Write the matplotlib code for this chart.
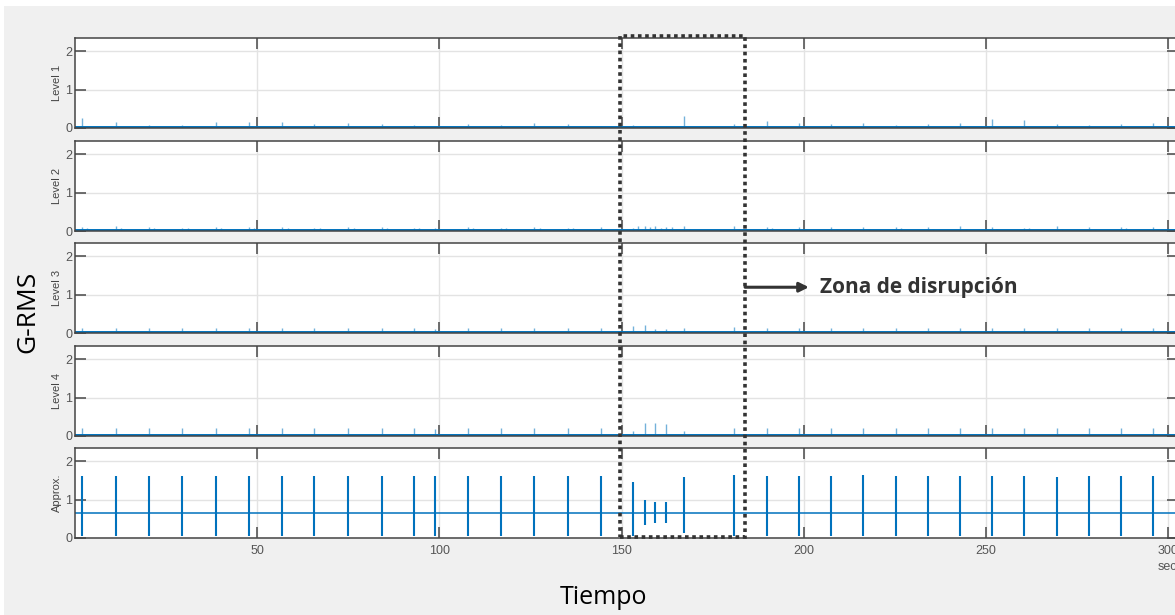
import matplotlib
matplotlib.use('Agg')
import matplotlib.pyplot as plt
from matplotlib.patches import Rectangle
from matplotlib.transforms import blended_transform_factory

# beat times (s) read off the Approx. panel
beats = [1.9, 11.2, 20.3, 29.4, 38.6, 47.7, 56.9, 65.7, 75.0, 84.2, 93.0, 98.8,
         107.8, 116.9, 126.0, 135.2, 144.3, 153.1, 156.4, 159.2, 162.2, 167.1,
         180.8, 189.8, 198.7, 207.5, 216.3, 225.2, 234.0, 242.9, 251.6, 260.4,
         269.5, 278.3, 287.0, 295.8]

approx_base = 0.65
approx_hi = [1.62, 1.62, 1.62, 1.62, 1.62, 1.62, 1.61, 1.60, 1.61, 1.62, 1.62, 1.62,
             1.61, 1.60, 1.62, 1.61, 1.62, 1.45, 1.00, 0.93, 0.93, 1.58,
             1.63, 1.62, 1.60, 1.62, 1.63, 1.61, 1.62, 1.62, 1.60, 1.62,
             1.59, 1.62, 1.62, 1.62]
approx_lo = [0.05, 0.05, 0.05, 0.05, 0.05, 0.05, 0.05, 0.05, 0.05, 0.05, 0.05, 0.05,
             0.05, 0.05, 0.05, 0.05, 0.05, 0.05, 0.34, 0.39, 0.39, 0.13,
             0.05, 0.05, 0.05, 0.05, 0.05, 0.05, 0.05, 0.05, 0.05, 0.05,
             0.05, 0.05, 0.05, 0.05]

level1 = [0.25, 0.16, 0.08, 0.08, 0.15, 0.15, 0.15, 0.10, 0.14, 0.10, 0.08, 0.06,
          0.10, 0.08, 0.12, 0.10, 0.06, 0.08, 0.05, 0.05, 0.06, 0.30,
          0.10, 0.18, 0.13, 0.10, 0.12, 0.08, 0.10, 0.12, 0.23, 0.22,
          0.10, 0.07, 0.10, 0.12]
level2 = [0.10, 0.12, 0.10, 0.09, 0.10, 0.10, 0.11, 0.09, 0.10, 0.10, 0.09, 0.08,
          0.10, 0.09, 0.10, 0.09, 0.10, 0.09, 0.14, 0.12, 0.11, 0.12,
          0.12, 0.11, 0.10, 0.10, 0.10, 0.11, 0.10, 0.12, 0.10, 0.09,
          0.12, 0.10, 0.10, 0.10]
level2_echo = [0.08, 0.09, 0.07, 0.07, 0.08, 0.08, 0.07, 0.07, 0.08, 0.07, 0.07, 0.06,
               0.07, 0.07, 0.08, 0.07, 0.06, 0.12, 0.10, 0.09, 0.10, 0.05,
               0.06, 0.07, 0.06, 0.06, 0.06, 0.08, 0.06, 0.06, 0.06, 0.08,
               0.06, 0.06, 0.07, 0.06]
level3 = [0.12, 0.12, 0.12, 0.12, 0.12, 0.12, 0.12, 0.12, 0.12, 0.13, 0.12, 0.10,
          0.12, 0.12, 0.12, 0.12, 0.12, 0.18, 0.20, 0.10, 0.10, 0.13,
          0.15, 0.12, 0.12, 0.12, 0.12, 0.12, 0.12, 0.12, 0.12, 0.12,
          0.12, 0.12, 0.12, 0.12]
level4 = [0.20, 0.22, 0.22, 0.22, 0.22, 0.22, 0.22, 0.20, 0.22, 0.22, 0.22, 0.18,
          0.22, 0.22, 0.22, 0.22, 0.22, 0.14, 0.33, 0.33, 0.30, 0.14,
          0.22, 0.22, 0.22, 0.22, 0.22, 0.22, 0.22, 0.22, 0.22, 0.22,
          0.22, 0.22, 0.22, 0.22]
echo_lag = 1.5

panel_labels = ['Level 1', 'Level 2', 'Level 3', 'Level 4', 'Approx.']
xticks = [50, 100, 150, 200, 250, 300]
yticks = [0, 1, 2]
zone = (149.6, 183.9)
zone_text = 'Zona de disrupción'

W, H = 1175, 615
blue = '#0072BD'
fig = plt.figure(figsize=(W / 100, H / 100), dpi=100, facecolor='white')
fig.add_artist(Rectangle((4 / W, 0), 1, (H - 6) / H, transform=fig.transFigure,
                         facecolor='#f0f0f0', edgecolor='none', zorder=-10))

tops = [38, 141, 243, 346, 448]
axes = []
for i, top in enumerate(tops):
    ax = fig.add_axes([75 / W, 1 - (top + 90) / H, 1103 / W, 90 / H])
    ax.set_xlim(0, 302.7)
    ax.set_ylim(0, 2.34)
    ax.set_xticks(xticks)
    ax.set_yticks(yticks)
    ax.grid(True, color='#e3e3e3', linewidth=1)
    ax.set_axisbelow(True)
    ax.tick_params(direction='in', length=8, width=1.2, top=True, right=True,
                   color='#555555', labelcolor='#555555', labelsize=9)
    ax.tick_params(axis='x', pad=5)
    ax.tick_params(axis='y', pad=2)
    for s in ax.spines.values():
        s.set_color('#444444')
        s.set_linewidth(1.1)
    ax.set_ylabel(panel_labels[i], fontsize=8, color='#444444', labelpad=2,
                  family='Liberation Sans')
    for lab in ax.get_xticklabels() + ax.get_yticklabels():
        lab.set_family('Liberation Sans')
    if i < 4:
        ax.tick_params(labelbottom=False)
    axes.append(ax)

levels = [level1, level2, level3, level4]
for ax, lev in zip(axes[:4], levels):
    ax.vlines(beats, 0.01, lev, color=blue, linewidth=1, alpha=0.55)
    ax.axhline(0.015, color=blue, linewidth=1.4)
axes[1].vlines([b + echo_lag for b in beats], 0.01, level2_echo,
               color=blue, linewidth=1, alpha=0.55)

ax5 = axes[4]
ax5.axhline(approx_base, color=blue, linewidth=1.1)
ax5.vlines(beats, approx_lo, approx_hi, color=blue, linewidth=1.5)
ax5.text((300 - 3) / 302.7, -0.25, 'seconds', transform=ax5.transAxes,
         fontsize=9, color='#555555', ha='left', va='top',
         family='Liberation Sans')

# dotted box marking the disruption zone
tr = blended_transform_factory(ax5.transData, fig.transFigure)
fig.add_artist(Rectangle((zone[0], 1 - 537 / H), zone[1] - zone[0], 501 / H,
                         transform=tr, fill=False, edgecolor='#333333',
                         linewidth=2.6, linestyle=(0, (1, 1)), zorder=20))

axes[2].annotate('', xy=(zone[1] + 17.5, 1.19), xytext=(zone[1], 1.19),
                 arrowprops=dict(arrowstyle='-|>', color='#333333', lw=2.2,
                                 mutation_scale=14, shrinkA=0, shrinkB=0),
                 annotation_clip=False, zorder=20)
axes[2].text(204.4, 1.19, zone_text, fontsize=15, fontweight='bold',
             color='#333333', va='center', ha='left', family='Open Sans')

fig.text(28 / W, 1 - 312 / H, 'G-RMS', rotation=90, fontsize=19,
         ha='center', va='center', family='Open Sans', color='black')
fig.text(603 / W, 1 - 597 / H, 'Tiempo', fontsize=18, ha='center',
         va='center', family='Open Sans', color='black')

plt.savefig('out.png', dpi=100, facecolor=fig.get_facecolor())
plt.close()
